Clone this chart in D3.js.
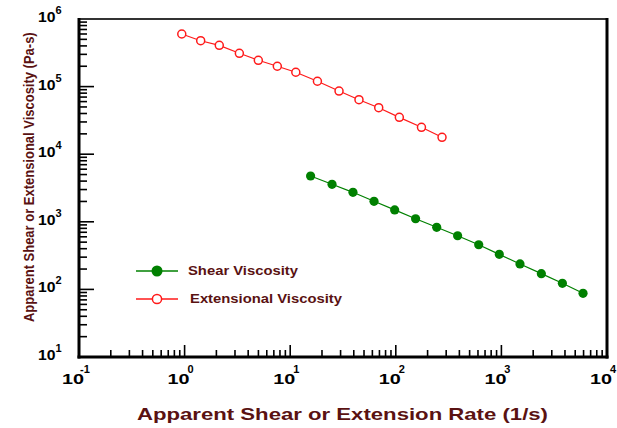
<!DOCTYPE html>
<html>
<head>
<meta charset="utf-8">
<script src="https://cdn.jsdelivr.net/npm/d3@7"></script>
<style>
  body { margin: 0; background: #fff; }
  svg { display: block; }
  text { font-family: "Liberation Sans", Arial, Helvetica, sans-serif; font-weight: bold; }
</style>
</head>
<body>
<svg id="chart" width="617" height="428"></svg>
<script>
// Extensional viscosity (open red circles)
const extRate = [0.94, 1.42, 2.13, 3.30, 4.99, 7.55, 11.3, 18.1, 29.0, 44.8, 68.9, 108, 175, 274];
const extVisc = [600000, 477000, 408000, 311000, 245000, 200000, 163000, 120000, 86000, 64000, 48700, 35100, 25000, 17800];

// Shear viscosity (filled green circles)
const shearRate = [15.6, 24.9, 39.3, 62.2, 97.6, 154, 244, 385, 610, 955, 1500, 2390, 3780, 5930];
const shearVisc = [4760, 3590, 2730, 2010, 1500, 1110, 829, 622, 458, 330, 238, 171, 123, 87.5];

// Decade tick labels (powers of ten)
const xExponents = [-1, 0, 1, 2, 3, 4];
const yExponents = [1, 2, 3, 4, 5, 6];

const seriesNames = ["Shear Viscosity", "Extensional Viscosity"];
const xTitle = "Apparent Shear or Extension Rate (1/s)";
const yTitle = "Apparent Shear or Extensional Viscosity (Pa-s)";

const maroon = "#5a1212";
const green = "#008000";
const red = "#ff1a1a";

const svg = d3.select("#chart");
const plot = { left: 79, right: 607, top: 19, bottom: 357 };

const x = d3.scaleLog().domain([1e-1, 1e4]).range([plot.left, plot.right]);
const y = d3.scaleLog().domain([1e1, 1e6]).range([plot.bottom, plot.top]);

// minor ticks: 2..9 times each decade
function minorTicks(lo, hi) {
  const out = [];
  for (let e = lo; e < hi; e++) {
    for (let m = 2; m <= 9; m++) out.push(m * Math.pow(10, e));
  }
  return out;
}

const axes = svg.append("g");

// x-axis ticks (pointing up, inside the frame)
axes.selectAll("line.xminor").data(minorTicks(-1, 4)).join("line")
  .attr("x1", d => x(d)).attr("x2", d => x(d))
  .attr("y1", plot.bottom).attr("y2", plot.bottom - 7)
  .attr("stroke", "#000").attr("stroke-width", 1.6);
axes.selectAll("line.xmajor").data(xExponents.slice(1, -1)).join("line")
  .attr("x1", d => x(Math.pow(10, d))).attr("x2", d => x(Math.pow(10, d)))
  .attr("y1", plot.bottom).attr("y2", plot.bottom - 12)
  .attr("stroke", "#000").attr("stroke-width", 1.6);

// y-axis ticks (pointing right, inside the frame)
axes.selectAll("line.yminor").data(minorTicks(1, 6)).join("line")
  .attr("x1", plot.left).attr("x2", plot.left + 8)
  .attr("y1", d => y(d)).attr("y2", d => y(d))
  .attr("stroke", "#000").attr("stroke-width", 1.6);
axes.selectAll("line.ymajor").data(yExponents.slice(1, -1)).join("line")
  .attr("x1", plot.left).attr("x2", plot.left + 15)
  .attr("y1", d => y(Math.pow(10, d))).attr("y2", d => y(Math.pow(10, d)))
  .attr("stroke", "#000").attr("stroke-width", 1.6);

// frame
axes.append("line").attr("x1", plot.left).attr("x2", plot.right).attr("y1", plot.top).attr("y2", plot.top)
  .attr("stroke", "#333").attr("stroke-width", 2);
axes.append("line").attr("x1", plot.right).attr("x2", plot.right).attr("y1", plot.top - 1).attr("y2", plot.bottom + 1.5)
  .attr("stroke", "#000").attr("stroke-width", 3);
axes.append("line").attr("x1", plot.left).attr("x2", plot.left).attr("y1", plot.top - 1).attr("y2", plot.bottom + 1.5)
  .attr("stroke", "#000").attr("stroke-width", 3);
axes.append("line").attr("x1", plot.left - 1.5).attr("x2", plot.right + 1.5).attr("y1", plot.bottom).attr("y2", plot.bottom)
  .attr("stroke", "#000").attr("stroke-width", 3);

// x tick labels: "10" with superscripted exponent
const xl = svg.append("g").selectAll("g").data(xExponents).join("g")
  .attr("transform", d => `translate(${x(Math.pow(10, d))},0)`);
xl.append("text").attr("x", -17).attr("y", 384)
  .attr("font-size", 15).attr("textLength", 22).attr("lengthAdjust", "spacingAndGlyphs")
  .attr("fill", "#000").text("10");
xl.append("text").attr("x", 6).attr("y", 373).attr("text-anchor", "middle")
  .attr("font-size", 11).attr("fill", "#000").text(d => d < 0 ? "-" + (-d) : d);

// y tick labels
const yl = svg.append("g").selectAll("g").data(yExponents).join("g")
  .attr("transform", d => `translate(0,${y(Math.pow(10, d))})`);
yl.append("text").attr("x", 38).attr("y", 3)
  .attr("font-size", 14).attr("textLength", 17.5).attr("lengthAdjust", "spacingAndGlyphs")
  .attr("fill", "#000").text("10");
yl.append("text").attr("x", 55.5).attr("y", -5)
  .attr("font-size", 11).attr("fill", "#000").text(d => d);

// axis titles
svg.append("text").attr("x", 137).attr("y", 420)
  .attr("font-size", 17).attr("textLength", 411).attr("lengthAdjust", "spacingAndGlyphs")
  .attr("fill", maroon).text(xTitle);

// condensed vertical title: squeeze the run along its baseline to span 290px
const yT = svg.append("text")
  .attr("font-size", 15)
  .attr("fill", maroon).text(yTitle);
const natural = yT.node().getComputedTextLength();
yT.attr("transform", `translate(34,322) rotate(-90) scale(${290 / natural},1)`);

// series lines and markers
const line = d3.line().x(d => x(d[0])).y(d => y(d[1]));
const extPts = d3.zip(extRate, extVisc);
const shearPts = d3.zip(shearRate, shearVisc);

svg.append("path").datum(extPts).attr("d", line)
  .attr("fill", "none").attr("stroke", red).attr("stroke-width", 1.2);
svg.append("g").selectAll("circle").data(extPts).join("circle")
  .attr("cx", d => x(d[0])).attr("cy", d => y(d[1])).attr("r", 4)
  .attr("fill", "#fff").attr("stroke", red).attr("stroke-width", 1.5);

svg.append("path").datum(shearPts).attr("d", line)
  .attr("fill", "none").attr("stroke", green).attr("stroke-width", 1.2);
svg.append("g").selectAll("circle").data(shearPts).join("circle")
  .attr("cx", d => x(d[0])).attr("cy", d => y(d[1])).attr("r", 4.6)
  .attr("fill", green);

// legend
const legend = svg.append("g");
const rows = [
  { name: seriesNames[0], color: green, filled: true, y: 271, tx: 188, len: 110 },
  { name: seriesNames[1], color: red, filled: false, y: 299, tx: 190, len: 152 }
];
rows.forEach(r => {
  legend.append("line").attr("x1", 136).attr("x2", 178).attr("y1", r.y).attr("y2", r.y)
    .attr("stroke", r.color).attr("stroke-width", 1.3);
  legend.append("circle").attr("cx", 157).attr("cy", r.y).attr("r", r.filled ? 5.5 : 4.6)
    .attr("fill", r.filled ? r.color : "#fff")
    .attr("stroke", r.color).attr("stroke-width", r.filled ? 0 : 1.5);
  legend.append("text").attr("x", r.tx).attr("y", r.y + 4)
    .attr("font-size", 12).attr("textLength", r.len).attr("lengthAdjust", "spacingAndGlyphs")
    .attr("fill", maroon).text(r.name);
});
</script>
</body>
</html>
